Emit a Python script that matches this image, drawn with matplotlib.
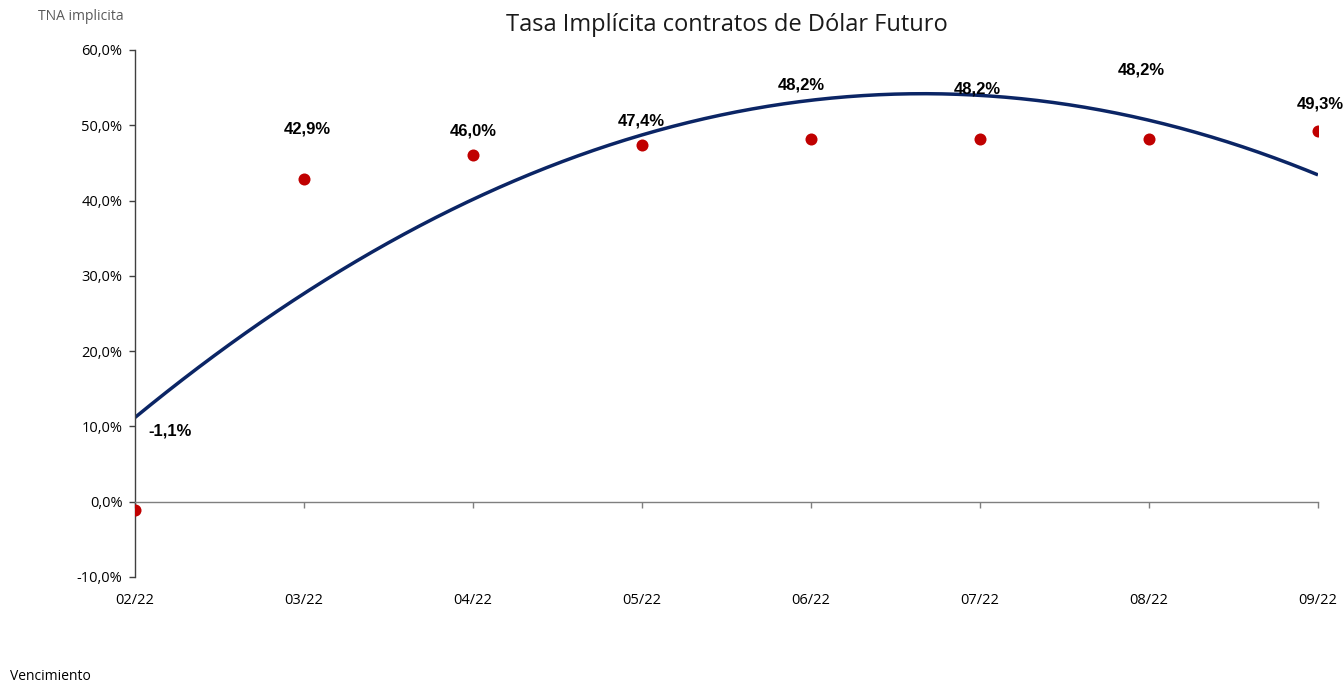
import numpy as np
import matplotlib
matplotlib.use("Agg")
import matplotlib.pyplot as plt
from matplotlib.ticker import FuncFormatter

# Data
months = ["02/22", "03/22", "04/22", "05/22", "06/22", "07/22", "08/22", "09/22"]
tna = [-1.1, 42.9, 46.0, 47.4, 48.2, 48.2, 48.2, 49.3]
y_ticks = [-10, 0, 10, 20, 30, 40, 50, 60]

# Label offsets in pixels (style, not data)
label_dx = [35, 3, 0, -1, -10, -3, -8, 2]
label_dy = [79, 50, 24, 24, 54, 50, 69, 27]

DPI = 100
fig = plt.figure(figsize=(13.44, 6.85), dpi=DPI)
ax = fig.add_axes([135 / 1344, 1 - 577 / 685, (1318 - 135) / 1344, (577 - 50) / 685])

x = np.arange(len(months))

# Polynomial (order 2) trendline fitted to the data
coef = np.polyfit(x, tna, 2)
xf = np.linspace(x[0], x[-1], 300)
ax.plot(xf, np.polyval(coef, xf), color="#0B2565", lw=2.5, zorder=2, solid_capstyle="butt")

ax.scatter(x, tna, s=75, color="#C00000", zorder=3, linewidths=0)

px = 72 / DPI
for xi, yi, lab_dx, lab_dy in zip(x, tna, label_dx, label_dy):
    ax.annotate(f"{yi:.1f}%".replace(".", ","), (xi, yi),
                xytext=(lab_dx * px, lab_dy * px), textcoords="offset points",
                ha="center", va="center", fontsize=12, fontweight="bold",
                family="Liberation Sans", color="black", zorder=4)

ax.set_xlim(x[0], x[-1])
ax.set_ylim(-10, 60)
ax.set_yticks(y_ticks)
ax.yaxis.set_major_formatter(FuncFormatter(lambda v, p: f"{v:.1f}%".replace(".", ",")))
ax.set_xticks(x, labels=months)

for s in ["top", "right"]:
    ax.spines[s].set_visible(False)
ax.spines["bottom"].set_position(("data", 0))
ax.spines["bottom"].set_color("#7F7F7F")
ax.spines["left"].set_color("#404040")
ax.spines["bottom"].set_linewidth(1.0)
ax.spines["left"].set_linewidth(1.0)

ax.tick_params(axis="x", direction="out", length=4, width=1, color="#7F7F7F",
               pad=62, labelsize=10.5)
ax.tick_params(axis="y", direction="out", length=4, width=1, color="#404040",
               pad=5, labelsize=10.5)
for lab in ax.get_xticklabels() + ax.get_yticklabels():
    lab.set_family("Open Sans")
    lab.set_color("black")

ax.set_title("Tasa Implícita contratos de Dólar Futuro", fontsize=17,
             family="Open Sans", color="#1A1A1A", pad=14)

fig.text(38 / 1344, 1 - 17 / 685, "TNA implicita", fontsize=10, family="Open Sans",
         color="#595959", ha="left", va="center")
fig.text(10 / 1344, 1 - 677 / 685, "Vencimiento", fontsize=10, family="Open Sans",
         color="black", ha="left", va="center")

fig.savefig("out.png", dpi=DPI)
